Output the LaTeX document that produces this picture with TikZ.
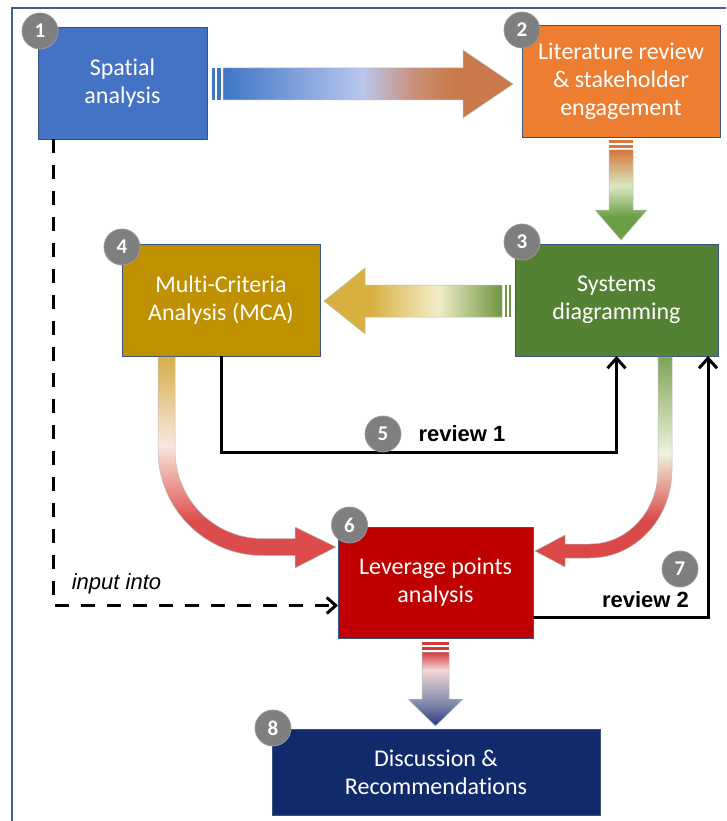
\documentclass[tikz,border=0pt]{standalone}
\usepackage{fontspec}
\setmainfont{Carlito}[Ligatures=CommonOff]
\newfontfamily\labelfont{Liberation Sans}
\usetikzlibrary{arrows.meta,calc}

% box fills
\definecolor{spblue}{HTML}{4472C4}
\definecolor{litorange}{HTML}{ED7D31}
\definecolor{sysgreen}{HTML}{548235}
\definecolor{mcagold}{HTML}{BF9000}
\definecolor{levred}{HTML}{C00000}
\definecolor{discnavy}{HTML}{102A6B}
\definecolor{boxline}{HTML}{3A5480}
\definecolor{badgegray}{HTML}{7F7F7F}
\definecolor{framecol}{HTML}{41618F}

% arrow gradient stops
\definecolor{aBlue}{HTML}{3E76C6}
\definecolor{aLav}{HTML}{B9C6EE}
\definecolor{aRose}{HTML}{C99078}
\definecolor{aBrown}{HTML}{C9794A}
\definecolor{bOrange}{HTML}{D5783A}
\definecolor{bPale}{HTML}{D9E8C2}
\definecolor{bGreen}{HTML}{6A9F45}
\definecolor{cGreen}{HTML}{6E9640}
\definecolor{cPale}{HTML}{F2EDC8}
\definecolor{cGold}{HTML}{D8B040}
\definecolor{dRed}{HTML}{D23A3A}
\definecolor{dPink}{HTML}{F3D6D6}
\definecolor{dSlate}{HTML}{8A90B0}
\definecolor{dNavy}{HTML}{273C7C}
\definecolor{eGold}{HTML}{D6AE4A}
\definecolor{ePale}{HTML}{F8E8DE}
\definecolor{eRed}{HTML}{DD4C4C}
\definecolor{fGreen}{HTML}{7EA456}
\definecolor{fPale}{HTML}{EEF2DC}
\definecolor{fRed}{HTML}{DA4848}

% shadings: the middle 25bp..75bp span covers the shaded path
\pgfdeclarehorizontalshading{shadeA}{100bp}{color(0bp)=(aBlue); color(25bp)=(aBlue); color(49bp)=(aLav); color(58bp)=(aRose); color(65bp)=(aBrown); color(100bp)=(aBrown)}
\pgfdeclareverticalshading{shadeB}{100bp}{color(0bp)=(bGreen); color(25bp)=(bGreen); color(38bp)=(bGreen); color(55bp)=(bPale); color(75bp)=(bOrange); color(100bp)=(bOrange)}
\pgfdeclarehorizontalshading{shadeC}{100bp}{color(0bp)=(cGold); color(25bp)=(cGold); color(38bp)=(cGold); color(57bp)=(cPale); color(75bp)=(cGreen); color(100bp)=(cGreen)}
\pgfdeclareverticalshading{shadeD}{100bp}{color(0bp)=(dNavy); color(25bp)=(dNavy); color(42bp)=(dSlate); color(63bp)=(dPink); color(75bp)=(dRed); color(100bp)=(dRed)}
\pgfdeclareverticalshading{shadeE}{100bp}{color(0bp)=(eRed); color(25bp)=(eRed); color(36bp)=(eRed); color(54bp)=(ePale); color(75bp)=(eGold); color(100bp)=(eGold)}
\pgfdeclareverticalshading{shadeF}{100bp}{color(0bp)=(fRed); color(25bp)=(fRed); color(36bp)=(fRed); color(52bp)=(fPale); color(75bp)=(fGreen); color(100bp)=(fGreen)}

\tikzset{
  box/.style={rectangle, draw=boxline, line width=0.8pt, inner sep=0pt, outer sep=0pt,
    text=white, align=center, font=\fontsize{24}{28}\selectfont},
  badge/.style={circle, fill=badgegray, draw=badgegray!80!white, line width=0.8pt,
    minimum size=36pt, inner sep=0pt, text=white, font=\fontsize{21}{21}\selectfont\bfseries},
  blockarrow/.style={draw=black!25, line width=0.5pt},
  revline/.style={line width=3pt, -{Straight Barb[length=10pt,width=18pt]}},
  dashline/.style={line width=3pt, dash pattern=on 14pt off 12pt, -{Straight Barb[length=9pt,width=16pt]}},
  revlabel/.style={font=\labelfont\fontsize{22}{22}\selectfont\bfseries, inner sep=0pt},
}

\begin{document}
\begin{tikzpicture}[x=1pt,y=-1pt]
\useasboundingbox (0,0) rectangle (726,821);
\fill[white] (0,0) rectangle (726,821);

% outer frame (left and top edges)
\draw[framecol, line width=2pt] (12,821) -- (12,8) -- (726,8);

% process boxes
\node[box, fill=spblue, minimum width=169pt, minimum height=112pt] (sp) at (122.5,83) {Spatial\\analysis};
\node[box, fill=litorange, minimum width=198pt, minimum height=112pt] (lit) at (621,81) {Literature review\\\& stakeholder\\engagement};
\node[box, fill=sysgreen, minimum width=203pt, minimum height=112pt] (sys) at (616.5,300) {Systems\\diagramming};
\node[box, fill=mcagold, minimum width=198pt, minimum height=112pt] (mca) at (221,300) {Multi-Criteria\\Analysis (MCA)};
\node[box, fill=levred, minimum width=195pt, minimum height=111pt] (lev) at (435.5,582.5) {Leverage points\\analysis};
\node[box, fill=discnavy, minimum width=328pt, minimum height=86pt] (disc) at (436,772) {Discussion \&\\Recommendations};

% striped block arrows between stages
\fill[aBlue] (212,68) rectangle (215,100);
\fill[aBlue] (217,68) rectangle (221,100);
\shadedraw[shading=shadeA, blockarrow] (223,68) -- (463,68) -- (463,50) -- (513,84) -- (463,118) -- (463,100) -- (223,100) -- cycle;

\fill[bOrange] (609,140) rectangle (633,143);
\fill[bOrange] (609,145) rectangle (633,148);
\shadedraw[shading=shadeB, blockarrow] (609,150) -- (609,210) -- (595,210) -- (621,240) -- (647,210) -- (633,210) -- (633,150) -- cycle;

\fill[cGreen] (505,285) rectangle (507,317);
\fill[cGreen] (508.5,285) rectangle (511,317);
\shadedraw[shading=shadeC, blockarrow] (502,285) -- (365,285) -- (365,268) -- (324,301) -- (365,334) -- (365,317) -- (502,317) -- cycle;

\fill[dRed] (422,642) rectangle (449,645);
\fill[dRed] (422,647) rectangle (449,650);
\shadedraw[shading=shadeD, blockarrow] (422,652) -- (422,699) -- (408,699) -- (435.5,726) -- (463,699) -- (449,699) -- (449,652) -- cycle;

% curved block arrows into the leverage points stage
\shadedraw[shading=shadeE, blockarrow] (158,357) -- (158,450)
  .. controls (158,508.3) and (204.6,555.5) .. (262,555.5)
  -- (295,555.5) -- (295,568) -- (336,547) -- (295,527) -- (295,538.5) -- (262,538.5)
  .. controls (214,538.5) and (175,498.9) .. (175,450) -- (175,357) -- cycle;

\shadedraw[shading=shadeF, blockarrow] (658,357) -- (672,357) -- (672,470)
  .. controls (672,518.6) and (635.3,558) .. (590,558)
  -- (565,558) -- (565,567) -- (535,551) -- (565,535) -- (565,544) -- (590,544)
  .. controls (627.6,544) and (658,510.9) .. (658,470) -- cycle;

% review loops
\draw[revline] (mca.south) -- ++(0,96) -| (sys.south);
\draw[revline] ([yshift=21pt]lev.south east) -| ([xshift=-10pt]sys.south east);

% input link
\draw[dashline] ([xshift=15pt]sp.south west) |- ([yshift=-23pt]lev.west);

% labels
\node[revlabel] (r1) at (462,434) {review 1};
\node[revlabel] (r2) at (645.5,600) {review 2};
\node[font=\labelfont\itshape\fontsize{22}{22}\selectfont, inner sep=0pt] (inp) at (116.5,584) {input into};

% step numbers
\node[badge] (n1) at (40,31) {1};
\node[badge] (n2) at (522,30) {2};
\node[badge] (n3) at (522,242) {3};
\node[badge] (n4) at (122,247) {4};
\node[badge] (n5) at (383,434) {5};
\node[badge] (n6) at (349.5,525) {6};
\node[badge] (n7) at (680,569) {7};
\node[badge] (n8) at (273,728) {8};
\end{tikzpicture}
\end{document}
